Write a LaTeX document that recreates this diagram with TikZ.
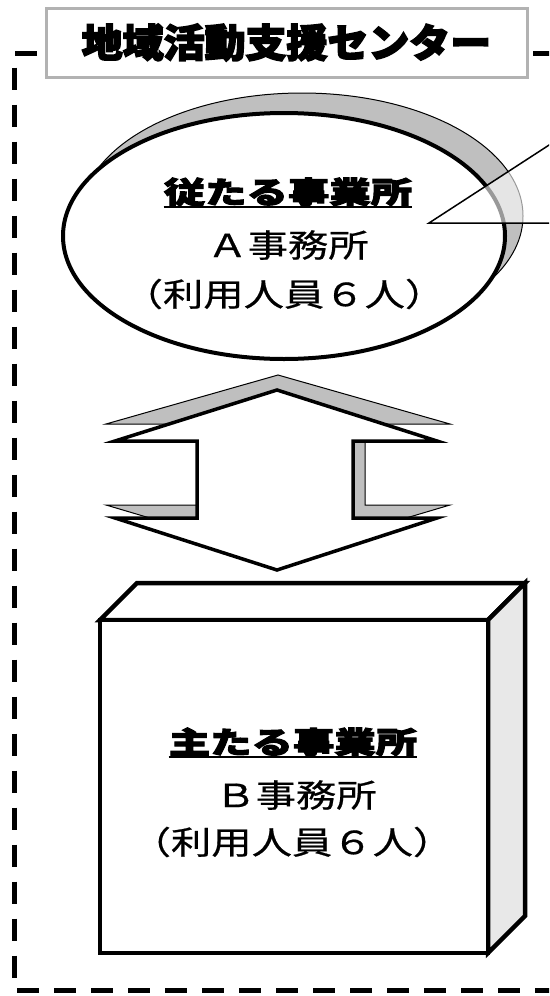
\documentclass[tikz,border=0pt]{standalone}
\usepackage{fontspec}
\usetikzlibrary{shapes.geometric}
\newfontfamily\jpreg{Noto Sans CJK JP}[FakeStretch=1.26,FakeBold=0.6]
\newfontfamily\jphead{Noto Sans CJK JP}[FakeStretch=1.38,FakeBold=3.5]
\newfontfamily\jptitle{Noto Sans CJK JP}[FakeStretch=1.05,FakeBold=4]
\tikzset{
  frameline/.style={line width=5pt, dash pattern=on 22pt off 15pt},
  titlebox/.style={draw=gray!60, line width=3pt, fill=white, inner sep=0pt,
    minimum width=481pt, minimum height=69pt,
    font=\jptitle\bfseries\fontsize{39pt}{41pt}\selectfont},
  bodytext/.style={inner sep=0pt, font=\jpreg\fontsize{32pt}{34pt}\selectfont},
  headtext/.style={inner sep=0pt, font=\jphead\bfseries\fontsize{30pt}{32pt}\selectfont},
  shadowfill/.style={fill=gray!50, draw=black, line width=1pt},
  uline/.style={line width=2.2pt},
}
\begin{document}
\begin{tikzpicture}[x=1pt,y=-1pt]
\clip (0,0) rectangle (549,996);
\fill[white] (0,0) rectangle (549,996);
% dashed frame
\draw[frameline] (37,53) -- (14.5,53) -- (14.5,990) -- (620,990);
\draw[frameline] (533,53) -- (620,53);
% title
\node[titlebox] (title) at (286.5,42.5) {地域活動支援センター};
% ellipse (subordinate office)
\draw[shadowfill] (302,216) ellipse [x radius=221pt, y radius=123pt];
\node[ellipse, draw, line width=4pt, fill=white, inner sep=0pt,
      minimum width=442pt, minimum height=246pt] (A) at (284,236) {};
\node[headtext] (Ah) at (288,192) {従たる事業所};
\coordinate (Au) at (0,207);
\draw[uline] (Ah.west |- Au) -- (Ah.east |- Au);
\node[bodytext] (Al2) at (288,245) {Ａ事務所};
\node[bodytext] (Al3) at (284,294) {（利用人員６人）};
% callout
\coordinate (cp) at (429,223);
\coordinate (cu) at (620,99);
\coordinate (cd) at (620,223);
\fill[white, fill opacity=0.6] (cp) -- (cu) -- (cd) -- cycle;
\draw[line width=1.5pt] (cu) -- (cp) -- (cd);
% double arrow (3D)
\draw[shadowfill] (278,375) -- (450,424) -- (365,424) -- (365,505) -- (450,505)
  -- (278,556) -- (106,505) -- (207,505) -- (207,424) -- (106,424) -- cycle;
\draw[line width=3.5pt, fill=white, line join=miter]
  (277,390) -- (437,441) -- (353,441) -- (353,518) -- (437,518)
  -- (277,570) -- (115,518) -- (197,518) -- (197,441) -- (115,441) -- cycle;
% box (main office)
\draw[line width=4.5pt, fill=white, line join=miter] (100,620) -- (137,583) -- (525,583) -- (488,620) -- cycle;
\draw[line width=4.5pt, fill=gray!18, line join=miter] (488,620) -- (525,583) -- (525,916) -- (488,953) -- cycle;
\node[draw, line width=4.5pt, fill=white, inner sep=0pt,
      minimum width=388pt, minimum height=333pt] (B) at (294,786.5) {};
\node[headtext] (Bh) at (293,742) {主たる事業所};
\coordinate (Bu) at (0,757);
\draw[uline] (Bh.west |- Bu) -- (Bh.east |- Bu);
\node[bodytext] (Bl2) at (296,795) {Ｂ事務所};
\node[bodytext] (Bl3) at (292,842) {（利用人員６人）};
\end{tikzpicture}
\end{document}
